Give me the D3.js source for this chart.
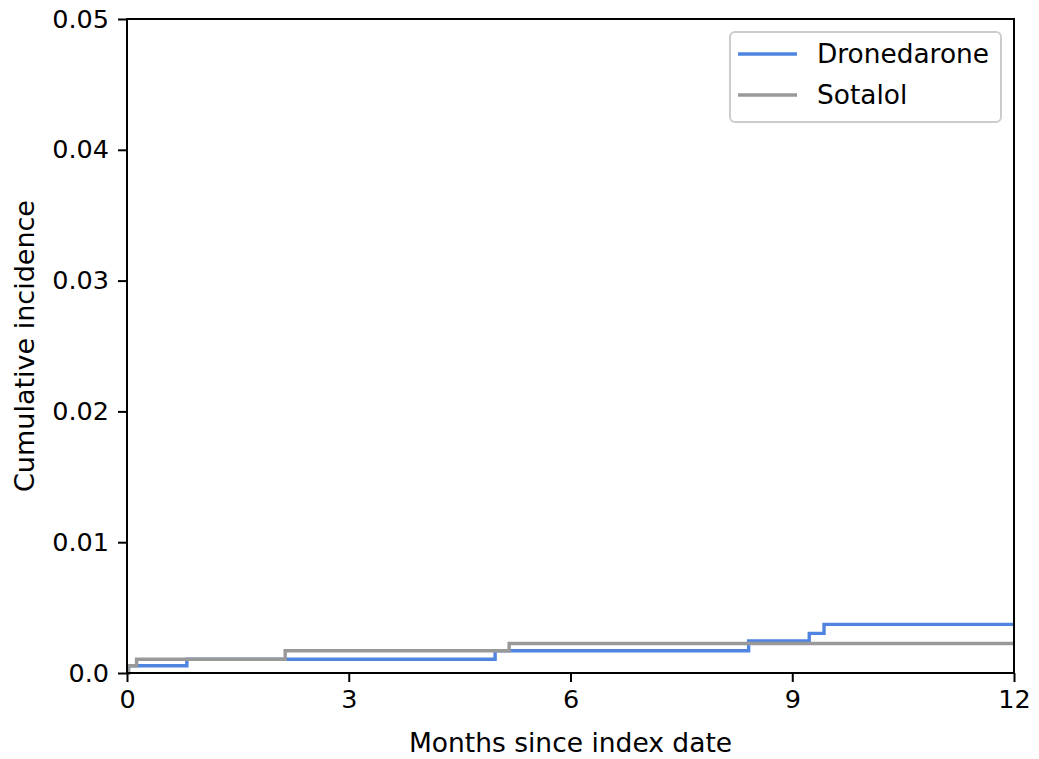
<!DOCTYPE html>
<html>
<head>
<meta charset="utf-8">
<script src="https://cdn.jsdelivr.net/npm/d3@7"></script>
<style>
  body { margin: 0; background: #fff; }
  text { font-family: "DejaVu Sans", sans-serif; fill: #000; }
</style>
</head>
<body>
<svg id="chart"></svg>
<script>
// step data (months, cumulative incidence)
const droneMonths = [0, 0.02, 0.81, 4.98, 8.41, 9.23, 9.43, 12]
const droneValues = [0, 0.00056, 0.00105, 0.0017, 0.00245, 0.00303, 0.00372, 0.00372]
const sotalolMonths = [0, 0.02, 0.13, 2.14, 5.17, 12]
const sotalolValues = [0, 0.00056, 0.00105, 0.0017, 0.00226, 0.00226]
const xTicks = [0, 3, 6, 9, 12]
const yTicks = [0, 0.01, 0.02, 0.03, 0.04, 0.05]
const yTickLabels = ["0.0", "0.01", "0.02", "0.03", "0.04", "0.05"]
const seriesNames = ["Dronedarone", "Sotalol"]
const seriesColors = ["#4f84e0", "#999999"]

const width = 1039, height = 759
const margin = { top: 19, right: 25, bottom: 86, left: 127 }

const svg = d3.select("#chart").attr("width", width).attr("height", height)

const x = d3.scaleLinear().domain([0, 12]).range([margin.left, width - margin.right])
const y = d3.scaleLinear().domain([0, 0.05]).range([height - margin.bottom, margin.top])

const series = [
    { name: seriesNames[0], color: seriesColors[0], pts: droneMonths.map((m, i) => [m, droneValues[i]]) },
    { name: seriesNames[1], color: seriesColors[1], pts: sotalolMonths.map((m, i) => [m, sotalolValues[i]]) }
]

const line = d3.line().x(d => x(d[0])).y(d => y(d[1])).curve(d3.curveStepAfter)

//Draw lines
svg.append("g")
    .selectAll("path")
    .data(series)
    .join("path")
    .attr("d", d => line(d.pts))
    .attr("fill", "none")
    .attr("stroke", d => d.color)
    .attr("stroke-width", 3.4)

//Axes
const xAxis = svg.append("g")
    .attr("transform", `translate(0,${y(0)})`)
    .call(d3.axisBottom(x).tickValues(xTicks).tickSize(9).tickPadding(8).tickFormat(d3.format("d")))
const yAxis = svg.append("g")
    .attr("transform", `translate(${x(0)},0)`)
    .call(d3.axisLeft(y).tickValues(yTicks).tickSize(9).tickPadding(9).tickFormat((d, i) => yTickLabels[i]))
for (const ax of [xAxis, yAxis]) {
    ax.selectAll("text").style("font-size", "25.5px").style("font-family", "DejaVu Sans")
    ax.selectAll("line").attr("stroke-width", 2)
    ax.select(".domain").remove()
}

// frame
svg.append("rect")
    .attr("x", x(0)).attr("y", y(0.05))
    .attr("width", x(12) - x(0)).attr("height", y(0) - y(0.05))
    .attr("fill", "none").attr("stroke", "#000").attr("stroke-width", 2)

//Axis labels
svg.append("text")
    .attr("x", (x(0) + x(12)) / 2).attr("y", 752)
    .attr("text-anchor", "middle")
    .style("font-size", "26.5px")
    .text("Months since index date")
svg.append("text")
    .attr("transform", `translate(34,${(y(0) + y(0.05)) / 2}) rotate(-90)`)
    .attr("text-anchor", "middle")
    .style("font-size", "27px")
    .text("Cumulative incidence")

//Legend
const legend = svg.append("g")
legend.append("rect")
    .attr("x", 730).attr("y", 32).attr("width", 271).attr("height", 90)
    .attr("rx", 5)
    .attr("fill", "#fff").attr("fill-opacity", 0.8)
    .attr("stroke", "#cccccc").attr("stroke-width", 2)
const items = legend.selectAll("g.item")
    .data(series)
    .join("g")
    .attr("transform", (d, i) => `translate(0,${54 + i * 41})`)
items.append("line")
    .attr("x1", 738).attr("x2", 797)
    .attr("stroke", d => d.color).attr("stroke-width", 3.4)
items.append("text")
    .attr("x", 817).attr("dy", "0.35em")
    .style("font-size", "26.4px")
    .text(d => d.name)
</script>
</body>
</html>
